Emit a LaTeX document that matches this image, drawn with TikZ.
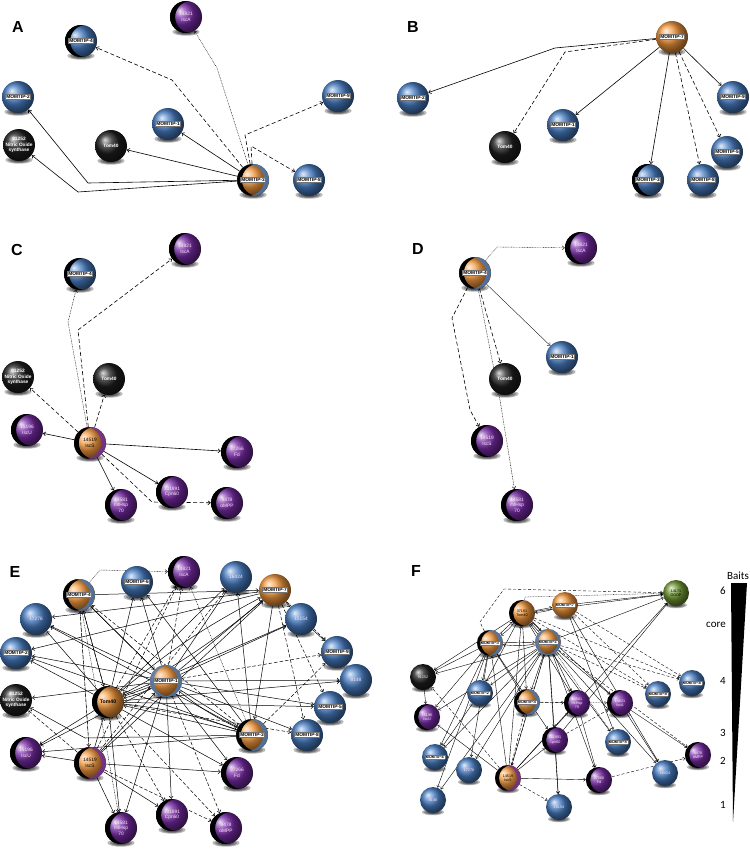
\documentclass[tikz,border=0pt]{standalone}
\usepackage{fontspec}
\setmainfont{Liberation Sans}
\newfontfamily\legfont{Carlito}
\usetikzlibrary{arrows.meta,calc}
\pgfdeclarelayer{shadowlayer}
\pgfdeclarelayer{edgelayer}
\pgfsetlayers{shadowlayer,edgelayer,main}
\definecolor{cblue}{RGB}{72,125,195}
\definecolor{corange}{RGB}{240,150,60}
\definecolor{cpurple}{RGB}{118,42,165}
\definecolor{cblack}{RGB}{30,30,30}
\definecolor{cgreen}{RGB}{110,150,50}
\newcommand{\rr}{16}
\newcommand{\mtfs}{\fontsize{4.8}{5}\selectfont}
\newcommand{\mt}[1]{{\setlength{\fboxsep}{0.7pt}\setlength{\fboxrule}{0.3pt}\fcolorbox{black!55}{white}{\color{black}\bfseries\mtfs #1}}}
\newcommand{\bal}[6]{%
  \renewcommand{\rr}{#5}%
  \begin{pgfonlayer}{shadowlayer}
    \foreach \s in {1,0.8,0.6,0.4}{\fill[black,opacity=0.28] (#2,#3+0.93*#5) ellipse [x radius=\s*0.85*#5*1pt, y radius=\s*0.24*#5*1pt];}
  \end{pgfonlayer}
  \node[sph,#4,minimum size=2*#5*1pt] (#1) at (#2,#3) {#6};
}
\tikzset{
  sph/.style={circle,inner sep=0pt,shade,draw=none,align=center},
  blu/.style={ball color=cblue},
  ora/.style={ball color=corange},
  purp/.style={ball color=cpurple},
  blk/.style={ball color=cblack},
  grn/.style={ball color=cgreen},
  lb/.style={path picture={\fill[black,even odd rule] (path picture bounding box.center) circle[radius=\rr*1pt] ([xshift=0.32*\rr*1pt]path picture bounding box.center) circle[radius=\rr*1pt];}},
  lbr/.style={path picture={\fill[black,even odd rule] (path picture bounding box.center) circle[radius=\rr*1pt] ([xshift=0.3*\rr*1pt]path picture bounding box.center) circle[radius=\rr*1pt];
     \fill[#1,opacity=0.75,even odd rule] (path picture bounding box.center) circle[radius=\rr*1pt] ([xshift=-0.3*\rr*1pt]path picture bounding box.center) circle[radius=\rr*1pt];}},
  sides/.style={path picture={\fill[#1,opacity=0.75,even odd rule] (path picture bounding box.center) circle[radius=\rr*1pt] ([xshift=0.25*\rr*1pt]path picture bounding box.center) circle[radius=\rr*1pt];
     \fill[#1,opacity=0.75,even odd rule] (path picture bounding box.center) circle[radius=\rr*1pt] ([xshift=-0.25*\rr*1pt]path picture bounding box.center) circle[radius=\rr*1pt];}},
  wt/.style={text=white!90!magenta,font=\fontsize{4.8}{5.5}\selectfont},
  wtb/.style={text=white,font=\bfseries\fontsize{4.8}{5.5}\selectfont},
  kt/.style={text=black,font=\fontsize{4.8}{5.5}\selectfont},
  ktb/.style={text=black,font=\bfseries\fontsize{5.2}{5.7}\selectfont},
  fsm/.style={font=\fontsize{3.7}{4.2}\selectfont},
  panel/.style={font=\bfseries\fontsize{16}{16}\selectfont},
  leg/.style={font=\legfont\fontsize{11}{12}\selectfont},
  tip/.style={-{Straight Barb[length=2.4pt,width=4pt]}},
  asol/.style={tip,line width=0.6pt},
  adsh/.style={tip,line width=0.6pt,dash pattern=on 4pt off 2.5pt},
  adot/.style={tip,line width=0.4pt,dash pattern=on 0.8pt off 0.8pt},
  athin/.style={tip,line width=0.35pt},
  esol/.style={tip,line width=0.5pt},
  edsh/.style={tip,line width=0.5pt,dash pattern=on 3.5pt off 2pt},
  edot/.style={tip,line width=0.4pt,dash pattern=on 0.8pt off 0.8pt},
  fsol/.style={-{Straight Barb[length=2pt,width=3.2pt]},line width=0.4pt},
  fdsh/.style={-{Straight Barb[length=2pt,width=3.2pt]},line width=0.4pt,dash pattern=on 3pt off 2pt},
  fdot/.style={-{Straight Barb[length=2pt,width=3.2pt]},line width=0.35pt,dash pattern=on 0.8pt off 0.8pt},
}
\begin{document}
\begin{tikzpicture}[x=1pt,y=-1pt]
\begin{pgfonlayer}{shadowlayer}
\fill[white] (0,0) rectangle (750,852);
\end{pgfonlayer}
\useasboundingbox (0,0) rectangle (750,852);
% ---------- panel letters
\node[panel] (labA) at (18,27) {A};
\node[panel] (labB) at (413,27) {B};
\node[panel] (labC) at (17,250) {C};
\node[panel] (labD) at (418,249) {D};
\node[panel] (labE) at (15,572) {E};
\node[panel] (labF) at (416,571) {F};
% ---------- A
\bal{aisca}{186}{17}{purp,lb,wt}{16}{14821\\IscA}
\bal{a4}{81}{41}{blu,lb}{16}{\mt{MOMTIP-4}}
\bal{a2}{18}{97}{blu}{16}{\mt{MOMTIP-2}}
\bal{anos}{19}{145}{blk,wtb}{16}{91252\\Nitric Oxide\\synthase}
\bal{atom}{111}{146}{blk,wtb}{16}{Tom40}
\bal{a1}{168}{124}{blu}{16}{\mt{MOMTIP-1}}
\bal{a9}{338}{96}{blu}{16}{\mt{MOMTIP-9}}
\bal{a3}{253}{180}{ora,lbr=cblue}{16}{\mt{MOMTIP-3}}
\bal{a8}{309}{180}{blu}{16}{\mt{MOMTIP-8}}
% ---------- B
\bal{b7}{672}{37}{ora}{16}{\mt{MOMTIP-7}}
\bal{b2}{413}{98}{blu}{16}{\mt{MOMTIP-2}}
\bal{btom}{505}{147}{blk,wtb}{16}{Tom40}
\bal{b1}{563}{125}{blu}{16}{\mt{MOMTIP-1}}
\bal{b9}{733}{97}{blu}{16}{\mt{MOMTIP-9}}
\bal{b5}{727}{152}{blu}{16}{\mt{MOMTIP-5}}
\bal{b3}{648}{180}{blu,lb}{16}{\mt{MOMTIP-3}}
\bal{b8}{703}{180}{blu}{16}{\mt{MOMTIP-8}}
% ---------- C
\bal{c4}{80}{274}{blu,lb}{16}{\mt{MOMTIP-4}}
\bal{cisca}{185}{249}{purp,lb,wt}{16}{14821\\IscA}
\bal{cnos}{18}{377}{blk,wtb}{16}{91252\\Nitric Oxide\\synthase}
\bal{ctom}{109}{379}{blk,wtb}{16}{Tom40}
\bal{ciscu}{27}{430}{purp,lb,wt}{16}{15196\\IscU}
\bal{cs}{90}{443}{ora,lbr=cpurple,kt}{16}{14519\\IscS}
\bal{cfd}{237}{452}{purp,lb,wt}{16}{27266\\Fd}
\bal{ccpn}{172}{492}{purp,lb,wt}{16}{101891\\Cpn60}
\bal{chsp}{121}{505}{purp,lb,wt}{16}{14581\\mtHsp\\70}
\bal{cmpp}{227}{503}{purp,lb,wt}{16}{9478\\αMPP}
% ---------- D
\bal{d4}{475}{273}{ora,lbr=cblue}{16}{\mt{MOMTIP-4}}
\bal{disca}{581}{248}{purp,lb,wt}{16}{14821\\IscA}
\bal{d1}{562}{357}{blu}{16}{\mt{MOMTIP-1}}
\bal{dtom}{505}{379}{blk,wtb}{16}{Tom40}
\bal{ds}{487}{441}{purp,lb,wt}{16}{14519\\IscS}
\bal{dhsp}{517}{505}{purp,lb,wt}{16}{14581\\mtHsp\\70}
% ---------- E
\bal{e4}{79}{595}{ora,lbr=cblue}{16}{\mt{MOMTIP-4}}
\bal{e6}{137}{582}{blu}{16}{\mt{MOMTIP-6}}
\bal{eisca}{184}{572}{purp,lb,wt}{16}{14821\\IscA}
\bal{e16424}{236}{577}{blu,wt}{16}{16424}
\bal{e7}{275}{590}{ora}{16}{\mt{MOMTIP-7}}
\bal{e15154}{301}{619}{blu,wt}{16}{15154}
\bal{e17276}{36}{619}{blu,wt}{16}{17276}
\bal{e2}{16}{653}{blu}{16}{\mt{MOMTIP-2}}
\bal{enos}{16}{700}{blk,wtb}{16}{91252\\Nitric Oxide\\synthase}
\bal{eiscu}{26}{753}{purp,lb,wt}{16}{15196\\IscU}
\bal{es}{90}{763}{ora,lbr=cpurple,kt}{16}{14519\\IscS}
\bal{etom}{108}{702}{ora,lb,ktb}{16}{Tom40}
\bal{e1}{166}{681}{ora,sides=cblue}{16}{\mt{MOMTIP-1}}
\bal{e3}{252}{735}{ora,lbr=cblue}{16}{\mt{MOMTIP-3}}
\bal{e9}{337}{652}{blu}{16}{\mt{MOMTIP-9}}
\bal{e8148}{356}{680}{blu,wt}{16}{8148}
\bal{e5}{330}{707}{blu}{16}{\mt{MOMTIP-5}}
\bal{e8}{307}{735}{blu}{16}{\mt{MOMTIP-8}}
\bal{efd}{237}{773}{purp,lb,wt}{16}{27266\\Fd}
\bal{ecpn}{172}{815}{purp,lb,wt}{16}{101891\\Cpn60}
\bal{ehsp}{121}{828}{purp,lb,wt}{16}{14581\\mtHsp\\70}
\bal{empp}{226}{828}{purp,lb,wt}{16}{9478\\αMPP}
% ---------- F
\renewcommand{\mtfs}{\fontsize{3.7}{3.9}\selectfont}
\bal{fg}{676}{593}{grn,kt,fsm}{13}{14171\\GGDP}
\bal{f7}{565}{605}{ora}{13}{\mt{MOMTIP-7}}
\bal{f37}{522}{613}{ora,lb,kt,fsm}{13}{37161\\Tom40}
\bal{f3}{490}{643}{ora,lbr=cblue}{13}{\mt{MOMTIP-3}}
\bal{f1}{548}{642}{ora,sides=cblue}{13}{\mt{MOMTIP-1}}
\bal{fnos}{423}{677}{blk,wt,fsm}{13}{91252}
\bal{f2}{480}{693}{blu}{13}{\mt{MOMTIP-2}}
\bal{f4}{527}{702}{ora,lbr=cblue}{13}{\mt{MOMTIP-4}}
\bal{fhsp}{577}{703}{purp,lb,wt,fsm}{13}{14581\\mtHsp\\70}
\bal{fisca}{620}{703}{purp,lb,wt,fsm}{13}{14821\\IscA}
\bal{f9}{658}{694}{blu}{13}{\mt{MOMTIP-9}}
\bal{f8}{692}{683}{blu}{13}{\mt{MOMTIP-8}}
\bal{fiscu}{427}{717}{purp,lb,wt,fsm}{13}{15196\\IscU}
\bal{fcpn}{555}{740}{purp,lb,wt,fsm}{13}{101891\\Cpn60}
\bal{f5}{618}{742}{blu}{13}{\mt{MOMTIP-5}}
\bal{fmpp}{698}{755}{purp,lb,wt,fsm}{13}{9478\\αMPP}
\bal{f6}{435}{757}{blu}{13}{\mt{MOMTIP-6}}
\bal{f17276}{469}{770}{blu,wt,fsm}{13}{17276}
\bal{fs}{508}{778}{ora,lbr=cpurple,kt,fsm}{13}{14519\\IscS}
\bal{ffd}{599}{780}{purp,lb,wt,fsm}{13}{27266\\Fd}
\bal{f16424}{665}{773}{blu,wt,fsm}{13}{16424}
\bal{f8148}{433}{800}{blu,wt,fsm}{13}{8148}
\bal{f15154}{559}{807}{blu,wt,fsm}{13}{15154}
% ---------- legend
\fill[black] (731,583) -- (747,583) -- (733,822) -- cycle;
\node[leg] (lbaits) at (738,576) {Baits};
\node[leg] (l6) at (723,591) {6};
\node[leg] (lcore) at (716,625) {core};
\node[leg] (l4) at (723,681) {4};
\node[leg] (l3) at (723,733) {3};
\node[leg] (l2) at (723,761) {2};
\node[leg] (l1) at (723,805) {1};
% ---------- edges
\begin{pgfonlayer}{edgelayer}
% A
\draw[adot] (a3) -- (217,68) -- (aisca);
\draw[adsh] (a3) -- (172,80) -- (a4);
\draw[adsh] (a3) -- (245,135) -- (a9);
\draw[adsh] (a3) -- (251,146) -- (a8);
\draw[asol] (a3) -- (a1);
\draw[asol] (a3) -- (atom);
\draw[asol] (a3) -- (88,183) -- (a2);
\draw[asol] (a3) -- (78,192) -- (anos);
% B
\draw[asol] (b7) -- (555,48) -- (b2);
\draw[adsh] (b7) -- (565,52) -- (btom);
\draw[asol] (b7) -- (b1);
\draw[asol] (b7) -- (b3);
\draw[adsh] (b7) -- (b8);
\draw[adsh] (b7) -- (b5);
\draw[asol] (b7) -- (b9);
% C
\draw[adot] (cs) -- (68,322) -- (c4);
\draw[adsh] (cs) -- (78,330) -- (cisca);
\draw[adsh] (cs) -- (cnos);
\draw[adsh] (cs) -- (ctom);
\draw[asol] (cs) -- (ciscu);
\draw[asol] (cs) -- (cfd);
\draw[asol] (cs) -- (ccpn);
\draw[asol] (cs) -- (chsp);
\draw[adsh] (cs) -- (152,502) -- (cmpp);
% D
\draw[adot] (d4) -- (497,247) -- (disca);
\draw[athin] (d4) -- (d1);
\draw[adsh] (d4) -- (dtom);
\draw[adot] (d4) -- (500,400) -- (dhsp);
\draw[adsh] (d4) -- (452,318) -- (470,410) -- (ds);
% E
\foreach \a/\b in {e1/e2,e1/enos,e1/e17276,e1/e4,e1/eiscu,e1/ehsp,e1/ecpn,e1/efd,e1/e8,e1/e5,e1/e8148,e1/e15154,e1/e7,e1/e6,e1/e16424,
  etom/e2,etom/e17276,etom/eiscu,etom/e4,etom/e6,etom/e5,etom/e8148,etom/ehsp,etom/efd,etom/e16424,etom/e15154,
  e7/e2,e7/e15154,e7/e17276,e3/eiscu,e3/e6,e3/e16424,e3/e2,e3/e17276,e4/e1,e4/e7,
  es/eiscu,es/efd,es/ecpn,es/ehsp,es/etom,es/e1,es/e7,e15154/e9}
  \draw[esol] (\a) -- (\b);
\foreach \a/\b in {e1/etom,etom/e3,e7/etom,e3/e1,etom/e7}
  \draw[esol] (\a) to[bend left=6] (\b);
\foreach \a/\b in {etom/e1,e3/etom,e1/e3,e7/e3}
  \draw[esol] (\a) -- (\b);
\foreach \a/\b in {e1/eisca,e1/empp,e1/e9,etom/eisca,etom/ecpn,etom/empp,e7/e9,e7/e5,e7/e8,e3/e4,e4/etom,e4/es,es/empp,es/eisca,es/enos,e3/e9,etom/e8,es/e16424}
  \draw[edsh] (\a) -- (\b);
\foreach \a/\b in {es/e4,e4/ehsp,e3/eisca}
  \draw[edot] (\a) -- (\b);
\draw[edot] (e4) -- (100,570) -- (eisca);
\draw[esol] (e3) -- (85,738) -- (enos);
% F
\foreach \a/\b in {f1/fnos,f1/f2,f1/f4,f1/fhsp,f1/fisca,f1/fiscu,f1/fcpn,f1/f6,f1/f17276,f1/fs,f1/ffd,f1/f8148,f1/f15154,f1/f16424,f1/fg,
  f37/fnos,f37/f2,f37/f4,f37/fhsp,f37/fisca,f37/f5,f37/fg,
  f3/fnos,f3/fiscu,f3/f6,f3/f2,f3/f4,f3/f17276,f3/fcpn,f3/f8148,
  f7/f5,f7/f16424,f7/fg,
  fs/fiscu,fs/ffd,fs/fcpn,fs/fhsp,fs/f3,fs/fg,fs/f37,
  fnos/fiscu,fhsp/ffd,fisca/f16424,fisca/fmpp,fcpn/f15154,f2/f6,fcpn/fg}
  \draw[fsol] (\a) -- (\b);
\foreach \a/\b in {f1/f3,f37/f1,f37/f3,f7/f37}
  \draw[fsol] (\a) to[bend left=8] (\b);
\foreach \a/\b in {f3/f1,f1/f37,f3/f37,f37/f7}
  \draw[fsol] (\a) -- (\b);
\foreach \a/\b in {f37/f9,f37/f8,f7/f9,f7/f8,f1/f9,f1/f8,f1/fmpp,fs/f1,fs/fnos,fs/f15154,ffd/fmpp,fcpn/fisca,f4/fhsp,fs/f4}
  \draw[fdsh] (\a) -- (\b);
\foreach \a/\b in {f4/fisca,f1/f5}
  \draw[fdot] (\a) -- (\b);
\draw[fdsh] (f3) -- (480,622) -- (504,589) -- (fg);
\draw[fdot] (f37) -- (525,597) -- (fg);
\end{pgfonlayer}
\end{tikzpicture}
\end{document}
